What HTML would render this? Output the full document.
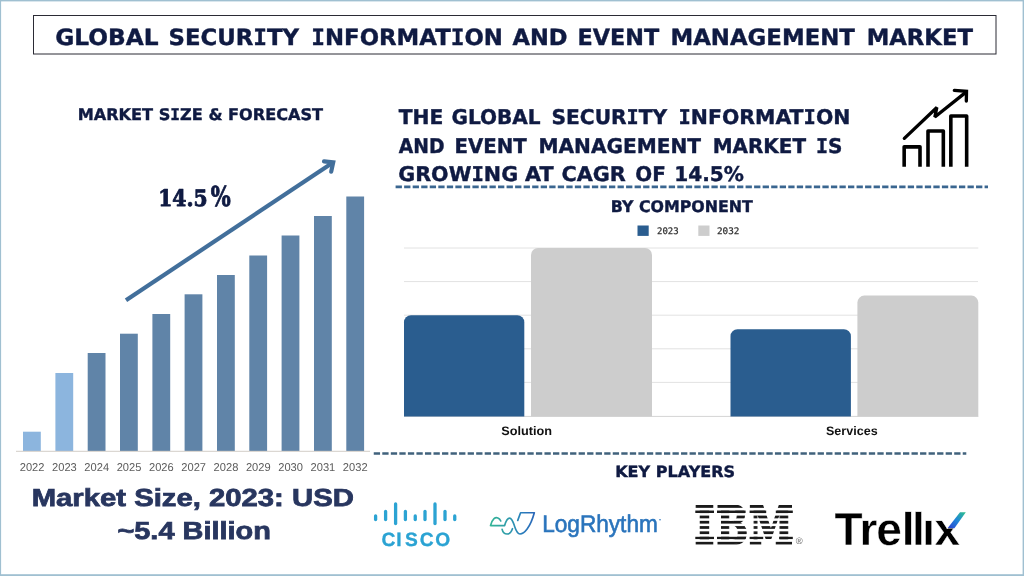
<!DOCTYPE html>
<html lang="en">
<head>
<meta charset="utf-8">
<title>Global Security Information and Event Management Market</title>
<style>
html,body{margin:0;padding:0;background:#fff;}
body{width:1024px;height:576px;overflow:hidden;position:relative;}
svg{position:absolute;left:0;top:0;display:block;text-rendering:geometricPrecision;}
.vb{font-family:"DejaVu Sans","Liberation Sans",sans-serif;font-weight:bold;fill:#0f1a42;stroke:#0f1a42;stroke-width:0.4px;}
.si{font-family:"DejaVu Sans Mono","DejaVu Sans",monospace;}
.pct{font-family:"DejaVu Serif","Liberation Serif",serif;font-weight:bold;fill:#0f1a42;stroke:#0f1a42;stroke-width:0.9px;stroke-linejoin:round;}
.ls{font-family:"Liberation Sans",sans-serif;}
.ms{font-family:"Liberation Sans",sans-serif;font-weight:bold;fill:#28365f;stroke:#28365f;stroke-width:0.75px;}
.yr{font-family:"Liberation Sans",sans-serif;font-size:11.4px;fill:#5c5c5c;}
.mono{font-family:"DejaVu Sans Mono","Liberation Mono",monospace;fill:#333;stroke:#333;stroke-width:0.25px;}
.cat{font-family:"Liberation Sans",sans-serif;font-weight:bold;fill:#111;}
.ibm{font-family:"DejaVu Serif","Liberation Serif",serif;font-weight:bold;fill:#1a1a1a;stroke:#1a1a1a;stroke-width:1.5px;stroke-linejoin:miter;}
</style>
</head>
<body>
<svg width="1024" height="576" viewBox="0 0 1024 576">
  <defs>
    <linearGradient id="lrg" gradientUnits="userSpaceOnUse" x1="100" y1="0" x2="810" y2="0">
      <stop offset="0" stop-color="#34b596"/>
      <stop offset="0.45" stop-color="#2d97ad"/>
      <stop offset="0.7" stop-color="#2a7fbc"/>
      <stop offset="1" stop-color="#2a67b8"/>
    </linearGradient>
    <linearGradient id="trg" x1="0" y1="1" x2="1" y2="0">
      <stop offset="0" stop-color="#2b3fd0"/>
      <stop offset="0.5" stop-color="#1f86d8"/>
      <stop offset="1" stop-color="#2fc08a"/>
    </linearGradient>
  </defs>

  <!-- page frame -->
  <rect x="0" y="0" width="1024" height="576" fill="#ffffff"/>
  <g fill="#a0c0d1">
    <rect x="0" y="0" width="1024" height="1.4"/>
    <rect x="0" y="0" width="1.1" height="576"/>
    <rect x="0" y="574.2" width="1024" height="1.8"/>
    <rect x="1022.6" y="0" width="1.4" height="576"/>
  </g>

  <!-- title box -->
  <rect x="33.5" y="15.5" width="962.5" height="38.5" fill="#fff" stroke="#2b2b35" stroke-width="1"/>
  <g class="vb" font-size="22.3" transform="translate(0 45)">
    <text x="55.21" textLength="103.51" lengthAdjust="spacingAndGlyphs">GLOBAL</text>
    <text x="168.48" textLength="130.65" lengthAdjust="spacingAndGlyphs">SECUR<tspan class="si">I</tspan>TY</text>
    <text x="311.23" textLength="191.72" lengthAdjust="spacingAndGlyphs"><tspan class="si">I</tspan>NFORMAT<tspan class="si">I</tspan>ON</text>
    <text x="512.50" textLength="55.01" lengthAdjust="spacingAndGlyphs">AND</text>
    <text x="577.50" textLength="81.71" lengthAdjust="spacingAndGlyphs">EVENT</text>
    <text x="670.45" textLength="184.49" lengthAdjust="spacingAndGlyphs">MANAGEMENT</text>
    <text x="866.71" textLength="106.23" lengthAdjust="spacingAndGlyphs">MARKET</text>
  </g>

  <!-- left: market size & forecast -->
  <text class="vb" x="77.69" y="119.6" font-size="16" textLength="245.42" lengthAdjust="spacingAndGlyphs">MARKET S<tspan class="si">I</tspan>ZE &amp; FORECAST</text>
  <text class="pct" x="158.21" y="205.8" font-size="22.8" textLength="49.55" lengthAdjust="spacingAndGlyphs">14.5</text>
  <text class="pct" x="210.70" y="206.3" font-size="27.5" textLength="20.00" lengthAdjust="spacingAndGlyphs">%</text>

  <!-- arrow -->
  <g stroke="#426f9b" stroke-width="4.2" fill="none">
    <line x1="126" y1="300.3" x2="332.6" y2="162.7"/>
    <polyline points="324,161.4 333.2,162.3 331.2,171.6" stroke-linecap="round" stroke-linejoin="miter" stroke-miterlimit="6"/>
  </g>

  <!-- bars -->
  <g fill="#6084a8">
    <rect x="23" y="431.7" width="17.8" height="19.3" fill="#8cb5de"/>
    <rect x="55.4" y="373" width="17.8" height="78" fill="#8cb5de"/>
    <rect x="87.7" y="353" width="17.8" height="98"/>
    <rect x="120" y="333.7" width="17.8" height="117.3"/>
    <rect x="152.4" y="314" width="17.8" height="137"/>
    <rect x="184.6" y="294.3" width="17.8" height="156.7"/>
    <rect x="217" y="275" width="17.8" height="176"/>
    <rect x="249.3" y="255.5" width="17.8" height="195.5"/>
    <rect x="281.6" y="235.5" width="17.8" height="215.5"/>
    <rect x="314" y="216" width="17.8" height="235"/>
    <rect x="346.3" y="196.5" width="17.8" height="254.5"/>
  </g>
  <line x1="16" y1="451.3" x2="370" y2="451.3" stroke="#d3cdc7" stroke-width="1"/>
  <g class="yr">
    <text x="19.75" y="471.3" textLength="24.73" lengthAdjust="spacingAndGlyphs">2022</text>
    <text x="52.06" y="471.3" textLength="24.73" lengthAdjust="spacingAndGlyphs">2023</text>
    <text x="84.37" y="471.3" textLength="24.73" lengthAdjust="spacingAndGlyphs">2024</text>
    <text x="116.68" y="471.3" textLength="24.73" lengthAdjust="spacingAndGlyphs">2025</text>
    <text x="148.99" y="471.3" textLength="24.73" lengthAdjust="spacingAndGlyphs">2026</text>
    <text x="181.30" y="471.3" textLength="24.73" lengthAdjust="spacingAndGlyphs">2027</text>
    <text x="213.61" y="471.3" textLength="24.73" lengthAdjust="spacingAndGlyphs">2028</text>
    <text x="245.92" y="471.3" textLength="24.73" lengthAdjust="spacingAndGlyphs">2029</text>
    <text x="278.23" y="471.3" textLength="24.73" lengthAdjust="spacingAndGlyphs">2030</text>
    <text x="310.54" y="471.3" textLength="24.73" lengthAdjust="spacingAndGlyphs">2031</text>
    <text x="342.85" y="471.3" textLength="24.73" lengthAdjust="spacingAndGlyphs">2032</text>
  </g>

  <!-- market size text -->
  <text class="ms" x="31.71" y="506" font-size="24.6" textLength="322.10" lengthAdjust="spacingAndGlyphs">Market Size, 2023: USD</text>
  <text class="ms" x="117.40" y="539.4" font-size="24.6" textLength="153.50" lengthAdjust="spacingAndGlyphs">~5.4 Billion</text>

  <!-- right heading -->
  <g class="vb" font-size="20.2" transform="translate(0 124.3)">
    <text x="398.75" textLength="44.54" lengthAdjust="spacingAndGlyphs">THE</text>
    <text x="451.51" textLength="89.11" lengthAdjust="spacingAndGlyphs">GLOBAL</text>
    <text x="551.50" textLength="115.62" lengthAdjust="spacingAndGlyphs">SECUR<tspan class="si">I</tspan>TY</text>
    <text x="678.49" textLength="171.92" lengthAdjust="spacingAndGlyphs"><tspan class="si">I</tspan>NFORMAT<tspan class="si">I</tspan>ON</text>
  </g>
  <g class="vb" font-size="20.2" transform="translate(0 152.8)">
    <text x="398.75" textLength="45.70" lengthAdjust="spacingAndGlyphs">AND</text>
    <text x="454.52" textLength="72.25" lengthAdjust="spacingAndGlyphs">EVENT</text>
    <text x="538.50" textLength="162.52" lengthAdjust="spacingAndGlyphs">MANAGEMENT</text>
    <text x="712.76" textLength="93.26" lengthAdjust="spacingAndGlyphs">MARKET</text>
    <text x="816.01" textLength="26.53" lengthAdjust="spacingAndGlyphs"><tspan class="si">I</tspan>S</text>
  </g>
  <g class="vb" font-size="20.2" transform="translate(0 181.4)">
    <text x="398.23" textLength="119.86" lengthAdjust="spacingAndGlyphs">GROW<tspan class="si">I</tspan>NG</text>
    <text x="525.00" textLength="28.51" lengthAdjust="spacingAndGlyphs">AT</text>
    <text x="561.47" textLength="64.31" lengthAdjust="spacingAndGlyphs">CAGR</text>
    <text x="635.26" textLength="30.51" lengthAdjust="spacingAndGlyphs">OF</text>
    <text x="674.26" textLength="69.72" lengthAdjust="spacingAndGlyphs">14.5%</text>
  </g>

  <!-- growth icon -->
  <g transform="translate(880 76) scale(0.16667)" fill="none" stroke="#000">
    <g stroke-width="21.5" stroke-linejoin="round">
      <polyline points="145,545 145,425 240,425 240,545"/>
      <polyline points="288,545 288,330 380,330 380,545"/>
      <polyline points="425,545 425,240 520,240 520,545"/>
    </g>
    <g stroke-width="20" stroke-linecap="round" stroke-linejoin="miter">
      <polyline points="146,374 341,189 329,246 518,95" stroke-linejoin="bevel"/>
      <polyline points="446,86 519,92 518,150"/>
    </g>
  </g>

  <!-- dashed separators -->
  <line x1="395.6" y1="186.9" x2="988" y2="186.9" stroke="#3a6690" stroke-width="2.6" stroke-dasharray="6.3 2.236"/>
  <line x1="373.75" y1="453.4" x2="966.3" y2="453.4" stroke="#40627c" stroke-width="2.5" stroke-dasharray="6.3 2.236"/>

  <!-- by component -->
  <text class="vb" x="610.81" y="212" font-size="16" textLength="142.10" lengthAdjust="spacingAndGlyphs">BY COMPONENT</text>
  <rect x="637.5" y="225.5" width="11.2" height="10.4" fill="#2a5d8f"/>
  <text class="mono" x="657.00" y="234" font-size="9" textLength="21.72" lengthAdjust="spacingAndGlyphs">2023</text>
  <rect x="698.3" y="225.5" width="11.2" height="10.4" fill="#cdcdcd"/>
  <text class="mono" x="717.00" y="234" font-size="9" textLength="22.43" lengthAdjust="spacingAndGlyphs">2032</text>

  <g stroke="#e2e2e2" stroke-width="1">
    <line x1="404" y1="248" x2="978.3" y2="248"/>
    <line x1="404" y1="281.6" x2="978" y2="281.6"/>
    <line x1="404" y1="315.2" x2="978" y2="315.2"/>
    <line x1="404" y1="348.8" x2="978" y2="348.8"/>
    <line x1="404" y1="382.4" x2="978" y2="382.4"/>
  </g>
  <line x1="404" y1="416.4" x2="978.3" y2="416.4" stroke="#d4d4d4" stroke-width="1"/>
  <path d="M404 416.4 V322.2 a7 7 0 0 1 7 -7 H517.3 a7 7 0 0 1 7 7 V416.4 Z" fill="#2a5d8f"/>
  <path d="M531 416.4 V255 a7 7 0 0 1 7 -7 H645 a7 7 0 0 1 7 7 V416.4 Z" fill="#cdcdcd"/>
  <path d="M730.5 416.4 V336.2 a7 7 0 0 1 7 -7 H843.9 a7 7 0 0 1 7 7 V416.4 Z" fill="#2a5d8f"/>
  <path d="M857.4 416.4 V302.6 a7 7 0 0 1 7 -7 H971.3 a7 7 0 0 1 7 7 V416.4 Z" fill="#cdcdcd"/>
  <text class="cat" x="501.20" y="435" font-size="12.3" textLength="50.83" lengthAdjust="spacingAndGlyphs">Solution</text>
  <text class="cat" x="826.00" y="435" font-size="12.3" textLength="51.64" lengthAdjust="spacingAndGlyphs">Services</text>

  <!-- key players -->
  <text class="vb" x="615.16" y="476.7" font-size="15.5" textLength="120.00" lengthAdjust="spacingAndGlyphs">KEY PLAYERS</text>

  <!-- cisco -->
  <g stroke="#2ba3d3" stroke-width="3.3" stroke-linecap="round">
    <line x1="375.6" y1="516" x2="375.6" y2="519.5"/>
    <line x1="385.6" y1="511.5" x2="385.6" y2="519.5"/>
    <line x1="395.6" y1="504" x2="395.6" y2="523.5"/>
    <line x1="405.4" y1="511.5" x2="405.4" y2="519.5"/>
    <line x1="415.25" y1="516" x2="415.25" y2="519.5"/>
    <line x1="425" y1="511.5" x2="425" y2="519.5"/>
    <line x1="435" y1="504" x2="435" y2="523.5"/>
    <line x1="445" y1="511.5" x2="445" y2="519.5"/>
    <line x1="454.75" y1="516" x2="454.75" y2="519.5"/>
  </g>
  <text class="ls" font-weight="bold" font-size="19.2" fill="#2ba3d3" stroke="#2ba3d3" stroke-width="0.35" y="546.3" x="381.40 396.20 404.90 419.80 435.20">CISCO</text>

  <!-- logrhythm -->
  <g transform="translate(484 504) scale(0.0625)" fill="none" stroke="url(#lrg)" stroke-width="27" stroke-linecap="round" stroke-linejoin="round">
    <path d="M268 272 C250 225 200 200 160 235 C130 262 115 310 105 345 L330 345 C345 290 370 225 410 225 C450 225 470 300 490 360 C510 420 530 480 575 480 C640 480 740 380 805 140 L585 140 L540 262"/>
    <path d="M290 405 C300 450 330 480 370 480 C410 480 440 440 455 395"/>
  </g>
  <text class="ls" fill="#2a74bc" stroke="#2a74bc" stroke-width="0.6" x="542.16" y="531.6" font-size="24" textLength="115.68" lengthAdjust="spacingAndGlyphs">LogRhythm</text>
  <circle cx="660" cy="519.8" r="0.8" fill="#2a74bc"/>

  <!-- ibm -->
  <g><text class="ibm" x="694.35" y="543.8" font-size="53" textLength="20.42" lengthAdjust="spacingAndGlyphs">I</text><text class="ibm" x="716.27" y="543.8" font-size="53" textLength="32.03" lengthAdjust="spacingAndGlyphs">B</text><text class="ibm" x="748.68" y="543.8" font-size="53" textLength="44.59" lengthAdjust="spacingAndGlyphs">M</text></g>
  <g fill="#1a1a1a">
    <rect x="695.3" y="510.3" width="18.7" height="2.7"/>
    <rect x="717" y="510.3" width="28.6" height="2.7"/>
    <rect x="749.6" y="510.3" width="16.6" height="2.7"/>
    <rect x="775.8" y="510.3" width="17" height="2.7"/>
    <rect x="695.3" y="536.5" width="18.7" height="2.7"/>
    <rect x="717" y="536.5" width="28.6" height="2.7"/>
    <rect x="749.6" y="536.5" width="13.6" height="2.7"/>
    <rect x="779.2" y="536.5" width="13.6" height="2.7"/>
  </g>
  <g fill="#fff">
    <rect x="690" y="507.85" width="106" height="2.5"/>
    <rect x="690" y="513.1" width="106" height="2.5"/>
    <rect x="690" y="518.35" width="106" height="2.5"/>
    <rect x="690" y="523.6" width="106" height="2.5"/>
    <rect x="690" y="528.85" width="106" height="2.5"/>
    <rect x="690" y="534.1" width="106" height="2.5"/>
    <rect x="690" y="539.35" width="106" height="2.5"/>
    <rect x="690" y="544.6" width="106" height="4"/>
    <rect x="690" y="498" width="106" height="7"/>
  </g>
  <text x="799.3" y="543.7" font-family="'Liberation Sans',sans-serif" font-size="9.4" fill="#6a6a6a" text-anchor="middle">®</text>

  <!-- trellix -->
  <text class="ls" font-weight="bold" font-size="46" fill="#000" stroke="#fff" stroke-width="0.45" y="544.6" x="834.60 859.40 876.30 901.70 912.00 922.20 934.60">Trellix</text>
  <rect x="923.5" y="508" width="9.5" height="11.4" fill="#fff"/>
  <polygon points="946.4,528.6 955,528.6 968,510 956.5,510 " fill="#fff"/>
  <polygon points="947.7,528 954.4,528.2 965.8,512.2 960,512.2" fill="url(#trg)"/>
</svg>
</body>
</html>
